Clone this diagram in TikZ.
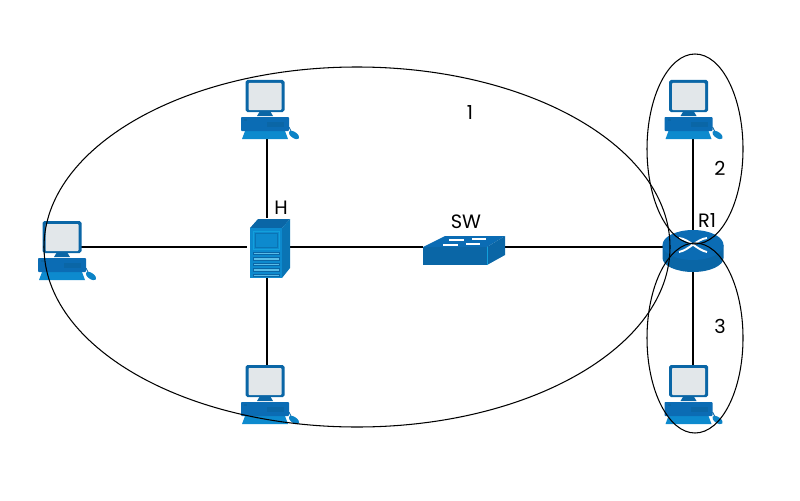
\documentclass[tikz,border=0pt]{standalone}
\usepackage{fontspec}
\setmainfont{Poppins}
\definecolor{devdark}{HTML}{0A66A6}
\definecolor{devbody}{HTML}{0B6CB4}
\definecolor{devmid}{HTML}{0D8ACE}
\definecolor{devlight}{HTML}{12A0DC}
\definecolor{devside}{HTML}{0A74B4}
\definecolor{screen}{HTML}{E2E7EA}
\tikzset{
    device/.style={inner sep=0pt, outer sep=0pt},
    link/.style={line width=1.15pt},
    area/.style={line width=0.6pt},
    tag/.style={inner sep=0pt, font=\fontsize{11pt}{13pt}\selectfont},
    computer/.pic={
        % origin is the middle of the screen's lower edge
        \fill[devdark] (-5,0) -- (5,0) -- (8,5) -- (-8,5) -- cycle;
        \fill[devdark, rounded corners=1pt] (-19.5,-31) rectangle (19.5,1);
        \fill[screen, rounded corners=0.5pt] (-16.5,-28) rectangle (16.5,-1);
        \fill[devmid] (-20,20) -- (20,20) -- (23,28) -- (-23,28) -- cycle;
        \fill[devbody, rounded corners=0.5pt] (-24,6) rectangle (24,20);
        \fill[devdark] (2,11) rectangle (19,16);
        \fill[devdark] (-21,8) rectangle (-18,10);
        \fill[devmid!80!devdark, rotate around={-35:(29,24)}] (29,24) ellipse [x radius=6, y radius=3];
        \draw[devdark, line width=0.5pt] (24,16) -- (26,20);
    },
    server/.pic={
        \fill[devdark] (-17,-19) -- (-9,-28) -- (23,-28) -- (15,-19) -- cycle;
        \fill[devside] (15,-19) -- (23,-28) -- (23,21) -- (15,31) -- cycle;
        \fill[devmid] (-17,-19) rectangle (15,31);
        \draw[devlight, line width=0.5pt, fill=devmid] (-14,-16) rectangle (12,2);
        \draw[devside, line width=0.5pt] (-12,-14) rectangle (10,0);
        \foreach \ypos in {5,10.5,16,21.5,27} {
            \fill[devlight!70!white] (-14,\ypos) rectangle (12,\ypos+2.5);
            \draw[devdark, line width=0.3pt] (-14,\ypos) rectangle (12,\ypos+2.5);
        }
    },
    hub/.pic={
        \fill[devbody] (-41,0) -- (-19,-11) -- (41,-11) -- (23,0) -- cycle;
        \fill[devdark] (-41,0) rectangle (23,18);
        \fill[devdark] (23,0) -- (41,-11) -- (41,8) -- (23,18) -- cycle;
        \draw[devlight, line width=0.3pt] (23,0) -- (23,18);
        \draw[white, line width=0.6pt] (-21,-2) -- (-6,-2);
        \draw[white, line width=0.6pt] (-15,-7) -- (0,-7);
        \draw[white, line width=0.6pt] (2,-3) -- (16,-3);
        \draw[white, line width=0.6pt] (8,-8) -- (22,-8);
    },
    router/.pic={
        \fill[devdark] (-30.5,-2) -- (-30.5,11) arc [start angle=180, end angle=0, x radius=30.5, y radius=14] -- (30.5,-2) -- cycle;
        \fill[devbody] (0,-2) ellipse [x radius=30.5, y radius=15];
        \draw[white, line width=1.1pt] (-14,-9) .. controls (-4,-8) and (4,3) .. (14,5);
        \draw[white, line width=1.1pt] (-14,5) .. controls (-4,3) and (4,-8) .. (14,-9);
    },
}
\begin{document}
\begin{tikzpicture}[x=0.02cm, y=-0.02cm]
    \useasboundingbox (0,0) rectangle (800,500);

    \node[device, minimum width=0.8cm, minimum height=1.18cm] (H) at (267,247) {};
    \node[device, minimum width=1.64cm, minimum height=0.6cm] (SW) at (464,247) {};
    \node[device, minimum width=1.22cm, minimum height=0.84cm] (R1) at (693,251) {};
    \node[device, minimum width=0.96cm, minimum height=1.16cm] (PC1) at (267,109) {};
    \node[device, minimum width=0.78cm, minimum height=0.62cm] (PC2) at (62,247) {};
    \node[device, minimum width=0.96cm, minimum height=1.2cm] (PC3) at (267,395) {};
    \node[device, minimum width=0.96cm, minimum height=1.16cm] (PC4) at (693,110) {};
    \node[device, minimum width=0.96cm, minimum height=1.2cm] (PC5) at (693,395) {};

    \draw[link] (PC2.east) to (H); \draw[link] (PC1) to (H); \draw[link] (PC3) to (H);
    \draw[link] (H) to (SW); \draw[link] (SW) to (R1.west |- SW);
    \draw[link] (PC4) to (R1); \draw[link] (PC5) to (R1);

    \pic at (265,111) {computer};
    \pic at (62,252) {computer};
    \pic at (265,396) {computer};
    \pic at (688.5,111) {computer};
    \pic at (688.5,396) {computer};
    \pic at (267,247) {server};
    \pic at (464,247) {hub};
    \pic at (693,247) {router};

    \draw[area] (357,247) ellipse [x radius=313, y radius=180];
    \draw[area] (695,149) ellipse [x radius=48, y radius=95];
    \draw[area] (695,338) ellipse [x radius=48, y radius=95];

    \node[tag] (L1) at (470,113) {1};
    \node[tag] (L2) at (720,168) {2};
    \node[tag] (L3) at (720,326) {3};
    \node[tag] (LH) at (281,208) {H};
    \node[tag] (LSW) at (466,222) {SW};
    \node[tag] (LR1) at (707,221) {R1};
\end{tikzpicture}
\end{document}
